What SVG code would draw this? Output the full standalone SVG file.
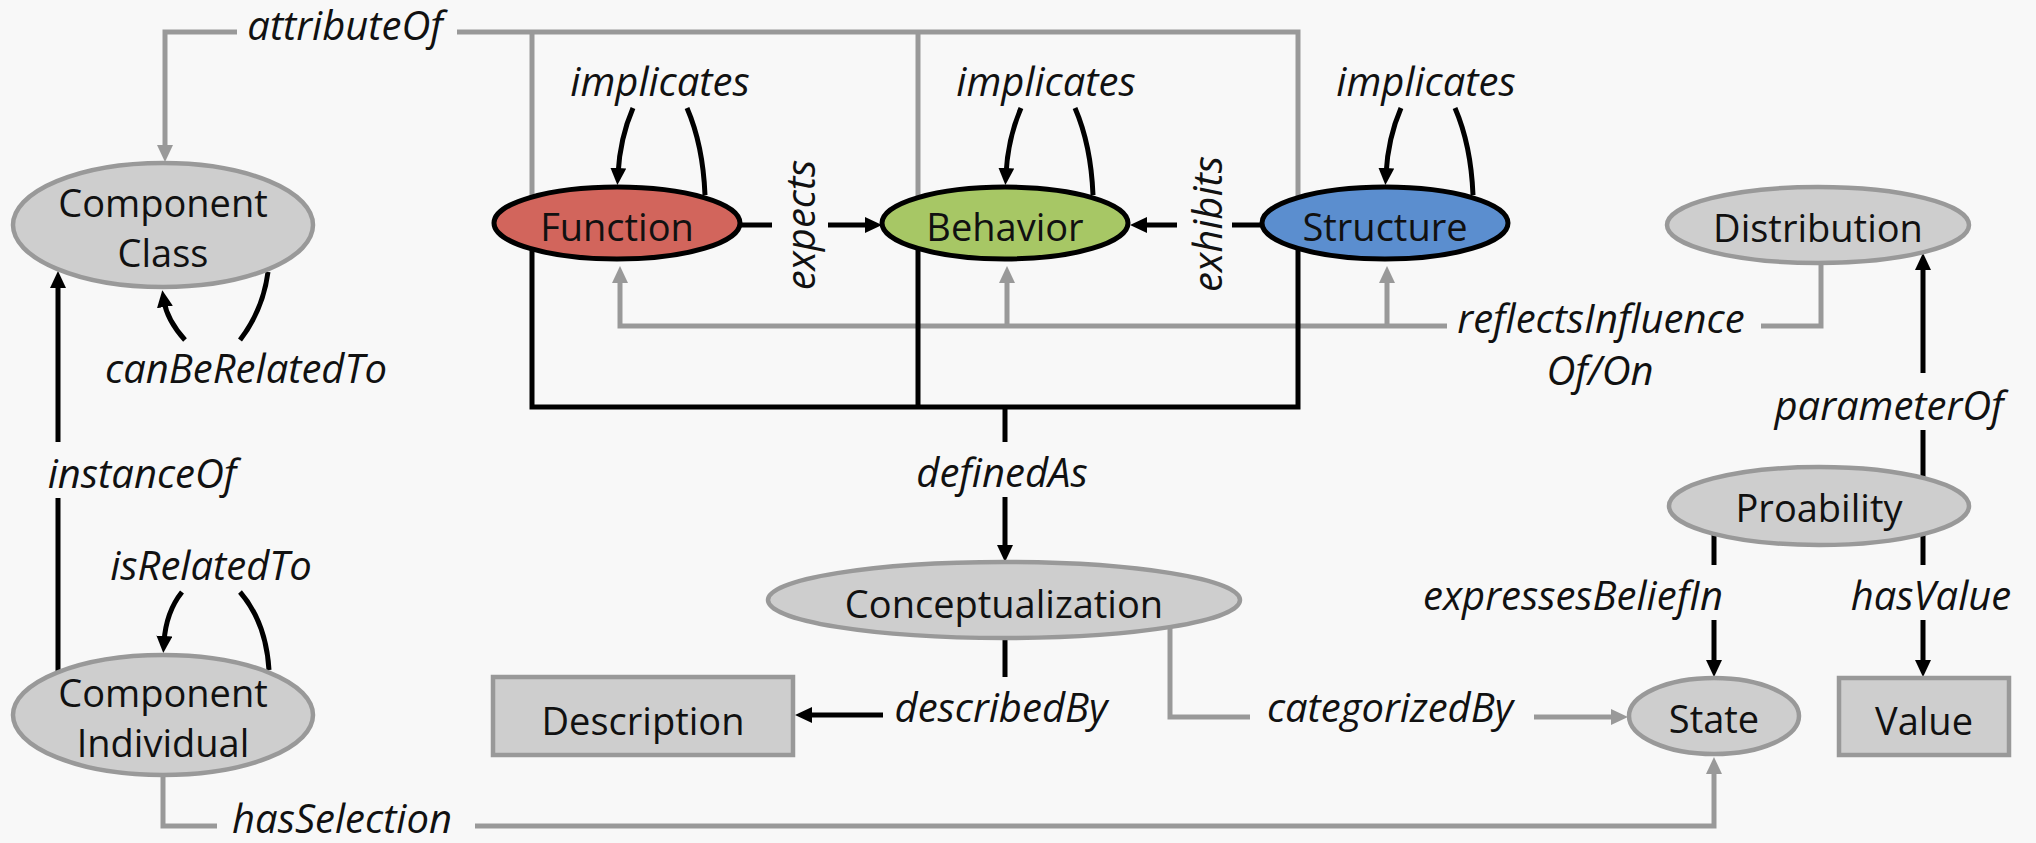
<svg xmlns="http://www.w3.org/2000/svg" width="2036" height="843" viewBox="0 0 2036 843">
<defs>
<style>
.bg{fill:#f8f8f8}
.gnode{fill:#cecece;stroke:#999;stroke-width:4.5}
.nt{font-family:"Open Sans",sans-serif;font-size:38px;fill:#111;text-anchor:middle}
.lbl{font-family:"Open Sans",sans-serif;font-style:italic;font-size:40px;fill:#111;text-anchor:middle}
.bl{fill:none;stroke:#000;stroke-width:5}
.gl{fill:none;stroke:#999;stroke-width:5}
.cnode{stroke:#000;stroke-width:5}
</style>
<marker id="ab" markerUnits="userSpaceOnUse" markerWidth="18" markerHeight="18" refX="6" refY="8" orient="auto"><path d="M0,0 L17,8 L0,16 z" fill="#000"/></marker>
<marker id="ag" markerUnits="userSpaceOnUse" markerWidth="18" markerHeight="18" refX="6" refY="8" orient="auto"><path d="M0,0 L17,8 L0,16 z" fill="#999"/></marker>
</defs>
<rect class="bg" x="0" y="0" width="2036" height="843"/>

<g id="connectors">
  <!-- attributeOf -->
  <path class="gl" d="M532,197 V32 M918,197 V32 M1298,197 V32 H457 M237,32 H165 V151" marker-end="url(#ag)"/>
  <!-- reflectsInfluenceOf/On -->
  <path class="gl" d="M1821,263 V326 H1761"/>
  <path class="gl" d="M1447,326 H620 V277" marker-end="url(#ag)"/>
  <path class="gl" d="M1007,326 V277" marker-end="url(#ag)"/>
  <path class="gl" d="M1387,326 V277" marker-end="url(#ag)"/>
  <!-- categorizedBy -->
  <path class="gl" d="M1170,628 V717 H1250"/>
  <path class="gl" d="M1534,717 H1617" marker-end="url(#ag)"/>
  <!-- hasSelection -->
  <path class="gl" d="M163,775 V826 H217"/>
  <path class="gl" d="M475,826 H1714 V768" marker-end="url(#ag)"/>
  <!-- definedAs -->
  <path class="bl" d="M532,249 V407 H1298 V249 M918,249 V407 M1005,407 V442"/>
  <path class="bl" d="M1005,497 V551" marker-end="url(#ab)"/>
  <!-- expects -->
  <path class="bl" d="M740,225 H772"/>
  <path class="bl" d="M828,225 H871" marker-end="url(#ab)"/>
  <!-- exhibits -->
  <path class="bl" d="M1263,225 H1232"/>
  <path class="bl" d="M1177,225 H1141" marker-end="url(#ab)"/>
  <!-- implicates loops -->
  <path class="bl" d="M633,108 Q620,138 618,174" marker-end="url(#ab)"/>
  <path class="bl" d="M687,108 Q703,145 705,195"/>
  <path class="bl" d="M1021,108 Q1008,138 1006,174" marker-end="url(#ab)"/>
  <path class="bl" d="M1075,108 Q1091,145 1093,195"/>
  <path class="bl" d="M1401,108 Q1388,138 1386,174" marker-end="url(#ab)"/>
  <path class="bl" d="M1455,108 Q1471,145 1473,195"/>
  <!-- canBeRelatedTo -->
  <path class="bl" d="M185,340 Q167,320 164,301" marker-end="url(#ab)"/>
  <path class="bl" d="M240,340 Q263,310 268,272"/>
  <!-- isRelatedTo -->
  <path class="bl" d="M182,592 Q166,612 164,642" marker-end="url(#ab)"/>
  <path class="bl" d="M240,592 Q266,622 269,670"/>
  <!-- instanceOf -->
  <path class="bl" d="M58,672 V498"/>
  <path class="bl" d="M58,442 V282" marker-end="url(#ab)"/>
  <!-- describedBy -->
  <path class="bl" d="M1005,638 V677"/>
  <path class="bl" d="M883,715 H806" marker-end="url(#ab)"/>
  <!-- parameterOf -->
  <path class="bl" d="M1923,478 V430"/>
  <path class="bl" d="M1923,373 V264" marker-end="url(#ab)"/>
  <!-- expressesBeliefIn -->
  <path class="bl" d="M1714,534 V565"/>
  <path class="bl" d="M1714,620 V666" marker-end="url(#ab)"/>
  <!-- hasValue -->
  <path class="bl" d="M1923,534 V565"/>
  <path class="bl" d="M1923,620 V666" marker-end="url(#ab)"/>

  <!-- labels -->
  <text class="lbl" x="345" y="40">attributeOf</text>
  <text class="lbl" x="660" y="96">implicates</text>
  <text class="lbl" x="1046" y="96">implicates</text>
  <text class="lbl" x="1426" y="96">implicates</text>
  <text class="lbl" transform="translate(815,225) rotate(-90)">expects</text>
  <text class="lbl" transform="translate(1222,224) rotate(-90)">exhibits</text>
  <text class="lbl" x="1601" y="333">reflectsInfluence</text>
  <text class="lbl" x="1600" y="385">Of/On</text>
  <text class="lbl" x="1889" y="420">parameterOf</text>
  <text class="lbl" x="246" y="383">canBeRelatedTo</text>
  <text class="lbl" x="142" y="488">instanceOf</text>
  <text class="lbl" x="211" y="580">isRelatedTo</text>
  <text class="lbl" x="1002" y="487">definedAs</text>
  <text class="lbl" x="1001" y="722">describedBy</text>
  <text class="lbl" x="1390" y="722">categorizedBy</text>
  <text class="lbl" x="1573" y="610">expressesBeliefIn</text>
  <text class="lbl" x="1931" y="610">hasValue</text>
  <text class="lbl" x="342" y="833">hasSelection</text>
</g>

<g id="componentClass">
  <ellipse class="gnode" cx="163" cy="225" rx="150" ry="62"/>
  <text class="nt" x="163" y="217">Component</text>
  <text class="nt" x="163" y="267">Class</text>
</g>
<g id="componentIndividual">
  <ellipse class="gnode" cx="163" cy="715" rx="150" ry="60"/>
  <text class="nt" x="163" y="707">Component</text>
  <text class="nt" x="163" y="757">Individual</text>
</g>
<g id="function">
  <ellipse class="cnode" cx="617" cy="223" rx="123" ry="36" fill="#d2655c"/>
  <text class="nt" x="617" y="241">Function</text>
</g>
<g id="behavior">
  <ellipse class="cnode" cx="1005" cy="223" rx="123" ry="36" fill="#a7c765"/>
  <text class="nt" x="1005" y="241">Behavior</text>
</g>
<g id="structure">
  <ellipse class="cnode" cx="1385" cy="223" rx="123" ry="36" fill="#5b8ecf"/>
  <text class="nt" x="1385" y="241">Structure</text>
</g>
<g id="distribution">
  <ellipse class="gnode" cx="1818" cy="225" rx="151" ry="38"/>
  <text class="nt" x="1818" y="242">Distribution</text>
</g>
<g id="conceptualization">
  <ellipse class="gnode" cx="1004" cy="600" rx="236" ry="38"/>
  <text class="nt" x="1004" y="618">Conceptualization</text>
</g>
<g id="description">
  <rect class="gnode" x="493" y="677" width="300" height="78"/>
  <text class="nt" x="643" y="735">Description</text>
</g>
<g id="probability">
  <ellipse class="gnode" cx="1819" cy="506" rx="150" ry="39"/>
  <text class="nt" x="1819" y="522">Proability</text>
</g>
<g id="state">
  <ellipse class="gnode" cx="1714" cy="716" rx="85" ry="38"/>
  <text class="nt" x="1714" y="733">State</text>
</g>
<g id="value">
  <rect class="gnode" x="1839" y="678" width="170" height="77"/>
  <text class="nt" x="1924" y="735">Value</text>
</g>
</svg>
